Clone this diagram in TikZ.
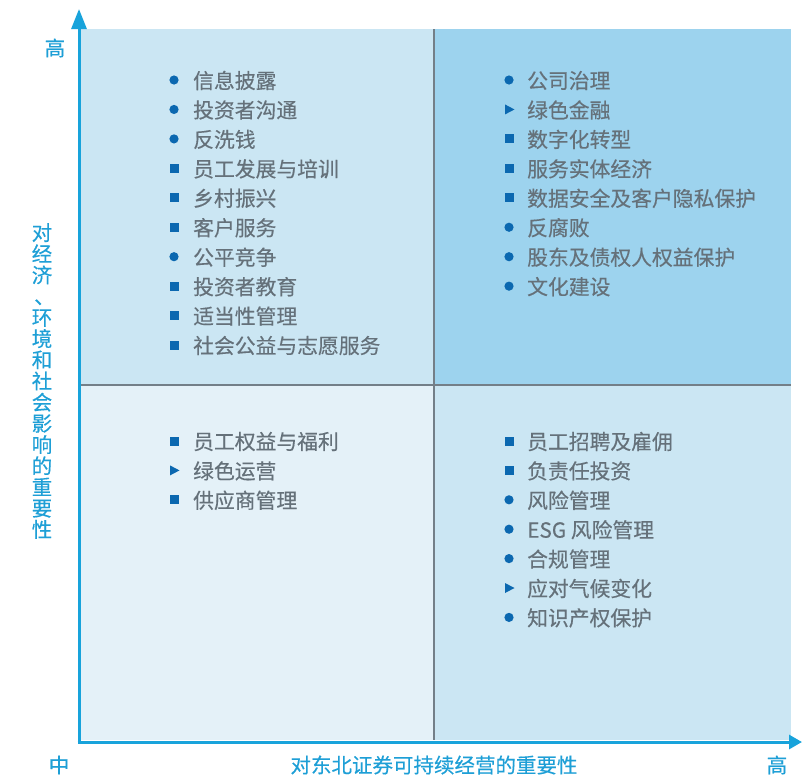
\documentclass[tikz,border=0pt]{standalone}
\usepackage{fontspec}
\newfontfamily\cjk[FakeBold=0.35]{Noto Sans CJK SC}
\usetikzlibrary{arrows.meta}
\definecolor{axis}{HTML}{18A3DB}
\definecolor{lab}{HTML}{1E9FD6}
\definecolor{qtl}{HTML}{CBE6F3}
\definecolor{qtr}{HTML}{9DD3EE}
\definecolor{qbl}{HTML}{E4F1F8}
\definecolor{qbr}{HTML}{CBE6F3}
\definecolor{divc}{HTML}{737F88}
\definecolor{txt}{HTML}{65717A}
\definecolor{bul}{HTML}{0B68B0}
\begin{document}
\begin{tikzpicture}[x=1pt,y=-1pt,
  item/.style={anchor=west, inner sep=0pt, text=txt, font=\cjk\fontsize{20.8}{24}\selectfont},
  axlab/.style={inner sep=0pt, text=lab, font=\cjk\fontsize{20.5}{24}\selectfont},
  bc/.pic={\fill[bul] (0,0) circle (4.6);},
  bs/.pic={\fill[bul] (-4.5,-4.5) rectangle (4.5,4.5);},
  bt/.pic={\fill[bul] (-4,-5) -- (5.5,0) -- (-4,5) -- cycle;},
  axisline/.style={draw=axis, line width=3pt}
]
\useasboundingbox (0,0) rectangle (802,777);
% quadrants
\fill[qtl] (81,29) rectangle (434,385);
\fill[qtr] (434,29) rectangle (791,385);
\fill[qbl] (81,385) rectangle (434,740);
\fill[qbr] (434,385) rectangle (791,740);
\draw[divc, line width=1.2pt] (434,29) -- (434,740);
\draw[divc, line width=1.2pt] (81,385) -- (791,385);
% axes
\coordinate (o) at (79,742);
\coordinate (ytop) at (79,9);
\coordinate (xend) at (802,742);
\draw[axisline, -{Triangle[length=20pt,width=15pt]}] ([yshift=1.5pt]o) -- (ytop);
\draw[axisline, -{Triangle[length=13pt,width=14pt]}] ([xshift=-1.5pt]o) -- (xend);
% axis labels
\node[axlab] (yhigh) at (55,48) {高};
\node[axlab] (xlow) at (59,765) {中};
\node[axlab] (xhigh) at (777,765) {高};
\node[axlab] (xtitle) at (434,765) {对东北证券可持续经营的重要性};
\node[axlab, align=center, font=\cjk\fontsize{20.5}{21.2}\selectfont] (ytitle) at (42,381)
  {对\\经\\济\\\hspace*{5pt}、\\环\\境\\和\\社\\会\\影\\响\\的\\重\\要\\性};
% top-left
\foreach \t/\s [count=\i] in {c/信息披露, c/投资者沟通, c/反洗钱, s/员工发展与培训, s/乡村振兴, s/客户服务, c/公平竞争, s/投资者教育, s/适当性管理, s/社会公益与志愿服务}{
  \pic at (174,{80+(\i-1)*29.45}) {b\t};
  \node[item] (tl\i) at (193,{80.5+(\i-1)*29.45}) {\s};
}
% top-right
\foreach \t/\s [count=\i] in {c/公司治理, t/绿色金融, s/数字化转型, s/服务实体经济, s/数据安全及客户隐私保护, c/反腐败, c/股东及债权人权益保护, c/文化建设}{
  \pic at (509,{80+(\i-1)*29.45}) {b\t};
  \node[item] (tr\i) at (527,{80.5+(\i-1)*29.45}) {\s};
}
% bottom-left
\foreach \t/\s [count=\i] in {s/员工权益与福利, t/绿色运营, s/供应商管理}{
  \pic at (174,{441+(\i-1)*29.4}) {b\t};
  \node[item] (bl\i) at (193,{441.5+(\i-1)*29.4}) {\s};
}
% bottom-right
\foreach \t/\s [count=\i] in {s/员工招聘及雇佣, s/负责任投资, c/风险管理, c/ESG 风险管理, c/合规管理, t/应对气候变化, c/知识产权保护}{
  \pic at (509,{441+(\i-1)*29.4}) {b\t};
  \node[item] (br\i) at (527,{441.5+(\i-1)*29.4}) {\s};
}
\end{tikzpicture}
\end{document}
